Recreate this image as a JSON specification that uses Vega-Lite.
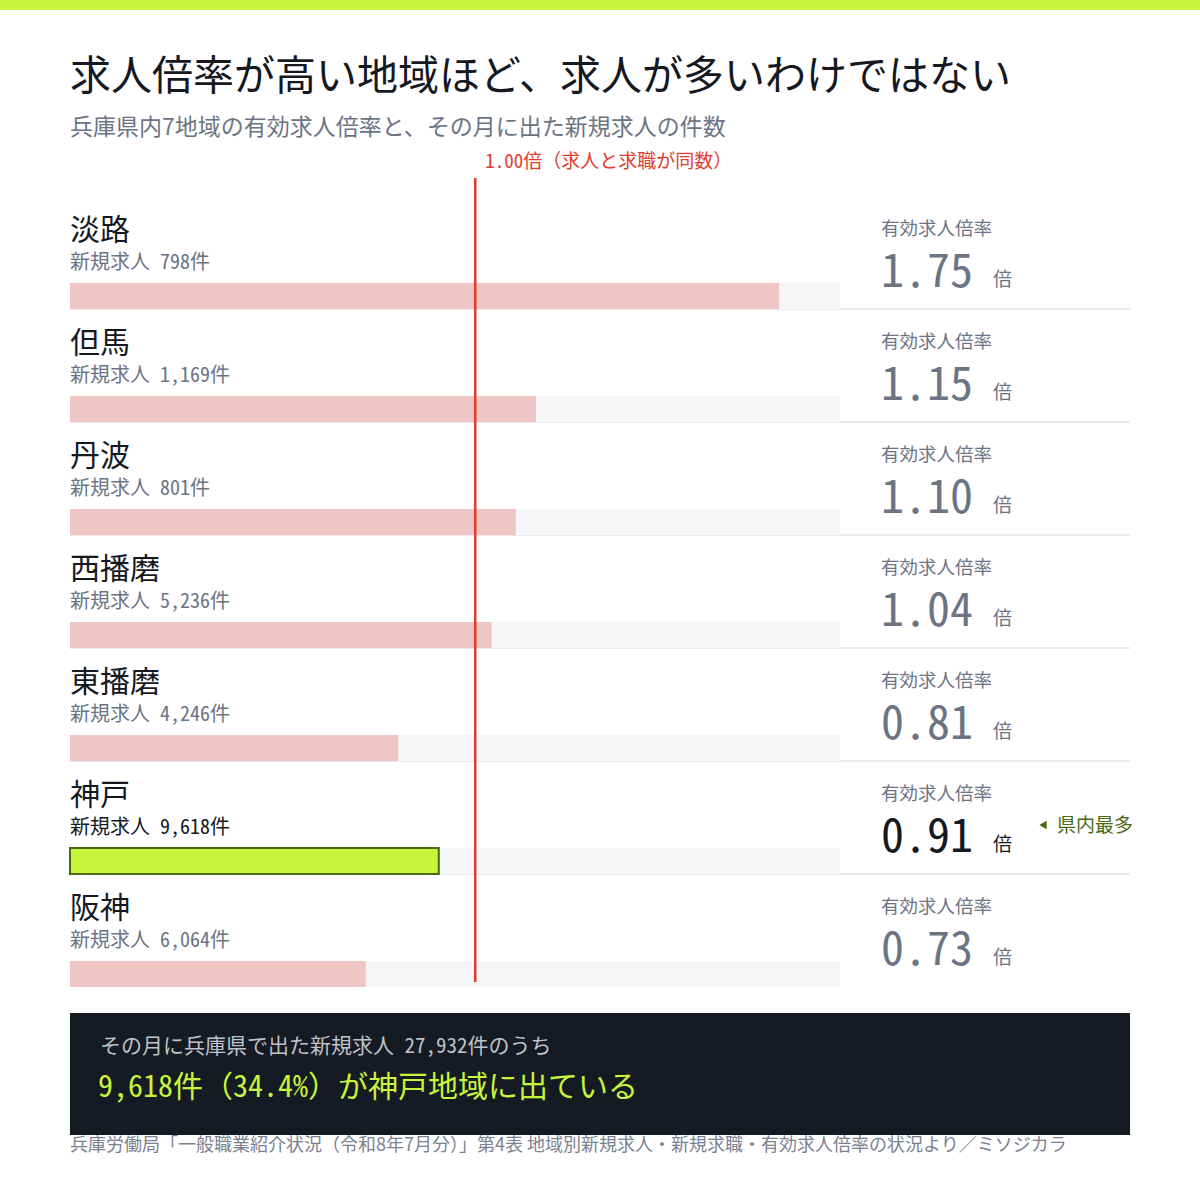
{
  "$schema": "https://vega.github.io/schema/vega-lite/v6.json",
  "width": 1200, "height": 1180,
  "autosize": "none",
  "padding": 0,
  "background": "#ffffff",
  "config": {"view": {"stroke": null}, "text": {"font": "Noto Sans CJK JP"}},
  "data": {"values": [
    {"region": "淡路", "count": 798, "ratio": 1.75},
    {"region": "但馬", "count": 1169, "ratio": 1.15},
    {"region": "丹波", "count": 801, "ratio": 1.10},
    {"region": "西播磨", "count": 5236, "ratio": 1.04},
    {"region": "東播磨", "count": 4246, "ratio": 0.81},
    {"region": "神戸", "count": 9618, "ratio": 0.91},
    {"region": "阪神", "count": 6064, "ratio": 0.73}
  ]},
  "transform": [
    {"calculate": "'新規求人 ' + format(datum.count, ',') + '件'", "as": "countLabel"}
  ],
  "encoding": {
    "y": {
      "field": "region", "type": "nominal", "sort": null,
      "scale": {"type": "band", "range": [196, 987], "paddingInner": 0, "paddingOuter": 0},
      "axis": null
    }
  },
  "layer": [
    {
      "data": {"values": [{}]},
      "mark": {"type": "rect", "color": "#c8f53c"},
      "encoding": {"x": {"value": 0}, "x2": {"value": 1200}, "y": {"value": 0}, "y2": {"value": 10}}
    },
    {
      "data": {"values": [{}]},
      "mark": {"type": "text", "align": "left", "baseline": "middle", "fontSize": 41, "color": "#15181f"},
      "encoding": {"x": {"value": 70}, "y": {"value": 78}, "text": {"value": "求人倍率が高い地域ほど、求人が多いわけではない"}}
    },
    {
      "data": {"values": [{}]},
      "mark": {"type": "text", "align": "left", "baseline": "middle", "fontSize": 23, "color": "#6b7485"},
      "encoding": {"x": {"value": 70}, "y": {"value": 128}, "text": {"value": "兵庫県内7地域の有効求人倍率と、その月に出た新規求人の件数"}}
    },
    {
      "transform": [{"filter": "datum.region !== '阪神'"}],
      "mark": {"type": "rule", "color": "#e3e5ec", "strokeWidth": 1.5},
      "encoding": {
        "x": {"value": 70}, "x2": {"value": 1130},
        "y": {"field": "region", "type": "nominal", "sort": null, "bandPosition": 1}
      }
    },
    {
      "mark": {"type": "bar", "height": 26, "yOffset": 43.5, "color": "#f5f6f8"},
      "encoding": {
        "x": {"datum": 0, "type": "quantitative", "scale": {"domain": [0, 1.9], "range": [70, 840], "nice": false, "zero": false}, "axis": null},
        "x2": {"datum": 1.9}
      }
    },
    {
      "mark": {"type": "bar", "height": 26, "yOffset": 43.5, "strokeWidth": 2},
      "encoding": {
        "x": {"field": "ratio", "type": "quantitative"},
        "x2": {"datum": 0},
        "fill": {"condition": {"test": "datum.region === '神戸'", "value": "#c8f53c"}, "value": "#eec7c5"},
        "stroke": {"condition": {"test": "datum.region === '神戸'", "value": "#4a6a12"}, "value": "transparent"}
      }
    },
    {
      "mark": {"type": "text", "align": "left", "baseline": "middle", "fontSize": 30, "dy": 35, "color": "#15181f"},
      "encoding": {
        "x": {"value": 70},
        "y": {"field": "region", "type": "nominal", "sort": null, "bandPosition": 0},
        "text": {"field": "region"}
      }
    },
    {
      "mark": {"type": "text", "align": "left", "baseline": "middle", "fontSize": 20, "dy": 67, "font": "Noto Sans Mono CJK JP, Noto Sans CJK JP"},
      "encoding": {
        "x": {"value": 70},
        "y": {"field": "region", "type": "nominal", "sort": null, "bandPosition": 0},
        "text": {"field": "countLabel"},
        "color": {"condition": {"test": "datum.region === '神戸'", "value": "#15181f"}, "value": "#6b7485"}
      }
    },
    {
      "mark": {"type": "text", "align": "left", "baseline": "middle", "fontSize": 18.5, "dy": 33, "color": "#6b7485"},
      "encoding": {
        "x": {"value": 881},
        "y": {"field": "region", "type": "nominal", "sort": null, "bandPosition": 0},
        "text": {"value": "有効求人倍率"}
      }
    },
    {
      "mark": {"type": "text", "align": "left", "baseline": "alphabetic", "fontSize": 46, "dy": 91, "font": "Noto Sans Mono CJK JP, Noto Sans CJK JP"},
      "encoding": {
        "x": {"value": 881},
        "y": {"field": "region", "type": "nominal", "sort": null, "bandPosition": 0},
        "text": {"field": "ratio", "format": ".2f"},
        "color": {"condition": {"test": "datum.region === '神戸'", "value": "#15181f"}, "value": "#6b7485"}
      }
    },
    {
      "mark": {"type": "text", "align": "left", "baseline": "alphabetic", "fontSize": 19, "dy": 90},
      "encoding": {
        "x": {"value": 993},
        "y": {"field": "region", "type": "nominal", "sort": null, "bandPosition": 0},
        "text": {"value": "倍"},
        "color": {"condition": {"test": "datum.region === '神戸'", "value": "#15181f"}, "value": "#6b7485"}
      }
    },
    {
      "transform": [{"filter": "datum.region === '神戸'"}],
      "mark": {"type": "point", "shape": "triangle-left", "filled": true, "size": 70, "yOffset": 64, "color": "#4a6a12", "opacity": 1},
      "encoding": {
        "x": {"value": 1043},
        "y": {"field": "region", "type": "nominal", "sort": null, "bandPosition": 0}
      }
    },
    {
      "transform": [{"filter": "datum.region === '神戸'"}],
      "mark": {"type": "text", "align": "left", "baseline": "middle", "fontSize": 19, "dy": 65, "color": "#4a6a12"},
      "encoding": {
        "x": {"value": 1057},
        "y": {"field": "region", "type": "nominal", "sort": null, "bandPosition": 0},
        "text": {"value": "県内最多"}
      }
    },
    {
      "data": {"values": [{}]},
      "mark": {"type": "rule", "color": "#e03c31", "strokeWidth": 2.5},
      "encoding": {"x": {"datum": 1, "type": "quantitative"}, "y": {"value": 178}, "y2": {"value": 982}}
    },
    {
      "data": {"values": [{}]},
      "mark": {"type": "text", "align": "left", "baseline": "middle", "fontSize": 19, "dx": 10, "color": "#e03c31", "font": "Noto Sans Mono CJK JP, Noto Sans CJK JP"},
      "encoding": {"x": {"datum": 1, "type": "quantitative"}, "y": {"value": 162}, "text": {"value": "1.00倍（求人と求職が同数）"}}
    },
    {
      "data": {"values": [{}]},
      "mark": {"type": "rect", "color": "#161a22"},
      "encoding": {"x": {"value": 70}, "x2": {"value": 1130}, "y": {"value": 1013}, "y2": {"value": 1135}}
    },
    {
      "data": {"values": [{}]},
      "mark": {"type": "text", "align": "left", "baseline": "middle", "fontSize": 21, "color": "#bfc3cc", "font": "Noto Sans Mono CJK JP, Noto Sans CJK JP"},
      "encoding": {"x": {"value": 100}, "y": {"value": 1047}, "text": {"value": "その月に兵庫県で出た新規求人 27,932件のうち"}}
    },
    {
      "data": {"values": [{}]},
      "mark": {"type": "text", "align": "left", "baseline": "middle", "fontSize": 30, "color": "#c8f53c", "font": "Noto Sans Mono CJK JP, Noto Sans CJK JP"},
      "encoding": {"x": {"value": 98}, "y": {"value": 1088}, "text": {"value": "9,618件（34.4%）が神戸地域に出ている"}}
    },
    {
      "data": {"values": [{}]},
      "mark": {"type": "text", "align": "left", "baseline": "middle", "fontSize": 18, "color": "#7b8190"},
      "encoding": {"x": {"value": 70}, "y": {"value": 1146}, "text": {"value": "兵庫労働局「一般職業紹介状況（令和8年7月分）」第4表 地域別新規求人・新規求職・有効求人倍率の状況より／ミソジカラ"}}
    }
  ]
}
